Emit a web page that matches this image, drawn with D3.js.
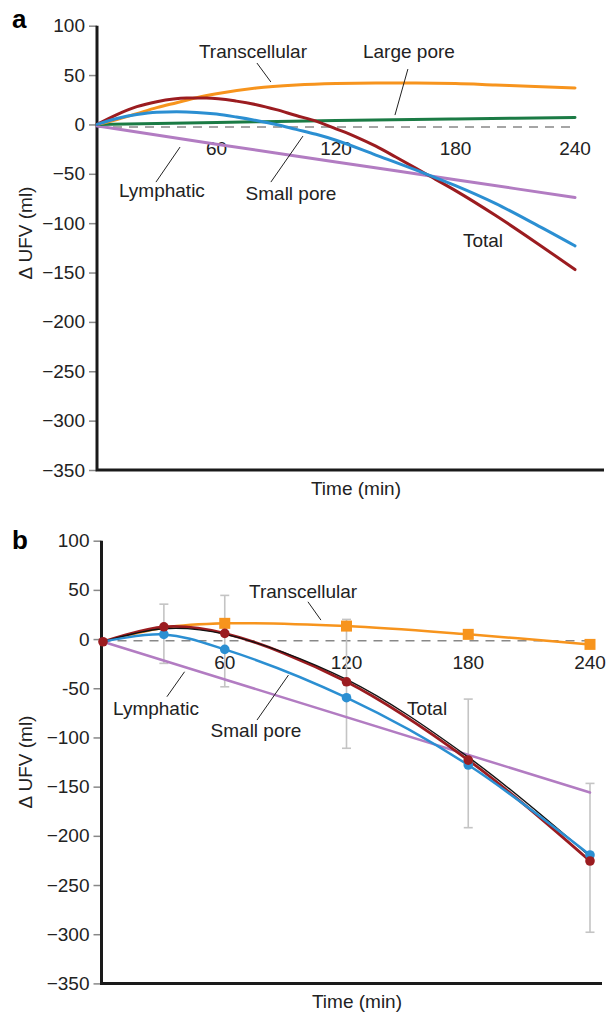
<!DOCTYPE html>
<html>
<head>
<meta charset="utf-8">
<script src="https://cdn.jsdelivr.net/npm/d3@7"></script>
<style>
  html, body { margin: 0; padding: 0; background: #fff; }
  svg { display: block; font-family: "Liberation Sans", Arial, Helvetica, sans-serif; }
</style>
</head>
<body>
<div id="chart"></div>
<script>
// ---- panel a: model curves, [time (min), delta UFV (ml)]
var transcellularA = [[0, 0], [10, 5], [20, 11], [30, 17], [40, 22], [50, 27], [60, 31], [80, 37], [100, 40],
    [120, 41.5], [140, 42], [160, 42], [180, 41.5], [200, 40], [220, 38.5], [240, 37]];
var largePoreA = [[0, 0], [60, 2], [120, 4], [180, 5.5], [240, 7]];
var totalA = [[0, 0], [10, 10], [20, 18], [30, 23], [45, 26.7], [55, 26.7], [70, 23.6], [80, 20], [90, 15],
    [100, 9], [110, 3.4], [120, -4.4], [130, -12.5], [140, -22], [150, -33], [165, -50], [180, -67],
    [200, -92], [220, -119], [240, -147]];
var smallPoreA = [[0, 0], [10, 6], [20, 10], [30, 12.3], [40, 12.8], [50, 12.2], [60, 10.5], [70, 7.5],
    [80, 4], [90, 0], [100, -5], [110, -10], [120, -16], [140, -31], [165, -50], [180, -62], [200, -80],
    [220, -101], [240, -123]];
var lymphaticA = [[0, -1.5], [60, -20], [120, -38], [180, -56], [240, -74]];

// ---- panel b: measured points + fits
var timeB = [0, 30, 60, 120, 180, 240];
var totalB = [-2.7, 12.5, 5.8, -43.4, -123, -225.6];
var modelTotalB = [-2.7, 10.5, 5, -41, -120, -221];
var smallPoreB = [-2.7, 4.7, -10.5, -59.6, -128, -219.5];
var transcellularB = [-2.7, 11.5, 16, 13.2, 4.8, -5.4];
var lymphaticB = [[0, -2.7], [240, -156]];
var errTimeB = [30, 60, 120, 180, 240];
var errHighB = [35.5, 44.4, 20, -61, -146.7];
var errLowB = [-24.7, -48.5, -111, -191.7, -298];

// ---- axes
var yTicks = [100, 50, 0, -50, -100, -150, -200, -250, -300, -350];
var yTickLabelsA = ['100', '50', '0', '\u221250', '\u2212100', '\u2212150', '\u2212200', '\u2212250', '\u2212300', '\u2212350'];
var yTickLabelsB = ['100', '50', '0', '-50', '\u2212100', '\u2212150', '\u2212200', '\u2212250', '\u2212300', '\u2212350'];
var xTicks = [60, 120, 180, 240];

var col = {
    orange: '#f7941d',
    green: '#1b7b45',
    red: '#9b1c20',
    blue: '#2b8fd2',
    purple: '#b27cc2',
    grey: '#c4c4c4'
};

var svg = d3.select('#chart').append('svg')
    .attr('width', 606)
    .attr('height', 1014);

function pairs(ts, vs) {
    return ts.map(function(t, i) { return [t, vs[i]]; });
}

function panel(o) {
    var x = d3.scaleLinear().domain([0, 240]).range(o.xr);
    var y = d3.scaleLinear().domain([-350, 100]).range(o.yr);
    var g = svg.append('g');

    // letter
    g.append('text').attr('x', 12).attr('y', o.letterY)
        .attr('font-size', 26).attr('font-weight', 'bold').text(o.letter);

    // y axis ticks
    var ax = d3.axisLeft(y).tickValues(yTicks).tickSize(8).tickPadding(4)
        .tickFormat(function(d, i) { return o.yLabels[i]; });
    var ag = g.append('g').attr('transform', 'translate(' + o.axisX + ',0)').call(ax);
    ag.select('.domain').remove();
    ag.selectAll('.tick line').attr('stroke', '#888').attr('stroke-width', 1.5);
    ag.selectAll('.tick text').attr('font-size', 19).attr('fill', '#222')
        .attr('font-family', '"Liberation Sans", Arial, sans-serif');

    // zero dashed line
    g.append('line')
        .attr('x1', o.axisX).attr('x2', o.dashEnd)
        .attr('y1', y(o.dashV)).attr('y2', y(o.dashV))
        .attr('stroke', '#888').attr('stroke-width', 1.5).attr('stroke-dasharray', '9,7');

    // x labels
    g.selectAll('.xl').data(xTicks).enter().append('text')
        .attr('x', function(d) { return x(d); })
        .attr('y', o.xLabelY).attr('dy', '0.35em')
        .attr('text-anchor', 'middle').attr('font-size', 19).attr('fill', '#222')
        .text(function(d) { return d; });

    // axis lines
    g.append('path')
        .attr('d', 'M' + o.axisX + ',' + y(100) + 'V' + y(-350) + 'H' + o.axisEnd)
        .attr('fill', 'none').attr('stroke', '#1a1a1a').attr('stroke-width', 3);

    g.append('text').attr('x', o.titleX).attr('y', y(-350) + 18).attr('dy', '0.35em')
        .attr('text-anchor', 'middle').attr('font-size', 19).attr('fill', '#222').text('Time (min)');
    g.append('text')
        .attr('transform', 'translate(25,' + o.yTitleY + ') rotate(-90)')
        .attr('dy', '0.35em').attr('text-anchor', 'middle')
        .attr('font-size', 19).attr('fill', '#222').text('\u0394 UFV (ml)');

    return { g: g, x: x, y: y };
}

function drawLine(p, data, color, width, curve) {
    var line = d3.line()
        .x(function(d) { return p.x(d[0]); })
        .y(function(d) { return p.y(d[1]); })
        .curve(curve || d3.curveMonotoneX);
    p.g.append('path').datum(data)
        .attr('d', line)
        .attr('fill', 'none')
        .attr('stroke', color)
        .attr('stroke-width', width)
        .attr('stroke-linecap', 'round');
}

function annotate(p, list) {
    list.forEach(function(a) {
        p.g.append('text')
            .attr('x', p.x(a.t)).attr('y', p.y(a.v)).attr('dy', '0.35em')
            .attr('text-anchor', 'middle').attr('font-size', 19).attr('fill', '#222')
            .text(a.text);
        if (a.lead) {
            p.g.append('line')
                .attr('x1', p.x(a.lead[0])).attr('y1', p.y(a.lead[1]))
                .attr('x2', p.x(a.lead[2])).attr('y2', p.y(a.lead[3]))
                .attr('stroke', '#222').attr('stroke-width', 1);
        }
    });
}

// ---------- panel a
var pa = panel({
    letter: 'a', letterY: 28,
    xr: [97, 575], yr: [470, 25.7],
    axisX: 97, axisEnd: 604, dashEnd: 575, dashV: -2.6,
    xLabelY: 148, titleX: 356, yTitleY: 233,
    yLabels: yTickLabelsA
});

drawLine(pa, lymphaticA, col.purple, 3);
drawLine(pa, largePoreA, col.green, 3);
drawLine(pa, transcellularA, col.orange, 3);
drawLine(pa, totalA, col.red, 3);
drawLine(pa, smallPoreA, col.blue, 3);

annotate(pa, [
    { text: 'Transcellular', t: 78.3, v: 73.6, lead: [80.3, 62.2, 87.3, 43] },
    { text: 'Large pore', t: 156.6, v: 73.6, lead: [156.1, 56.1, 149.6, 9.5] },
    { text: 'Lymphatic', t: 32.6, v: -67.2, lead: [29.6, -58.4, 41.7, -22.9] },
    { text: 'Small pore', t: 97.4, v: -69.5, lead: [87.3, -58.4, 103.4, -11.8] },
    { text: 'Total', t: 193.8, v: -117 }
]);

// ---------- panel b
var pb = panel({
    letter: 'b', letterY: 549,
    xr: [103, 590], yr: [983.4, 540.7],
    axisX: 101.5, axisEnd: 602, dashEnd: 594, dashV: -1.7,
    xLabelY: 662, titleX: 357, yTitleY: 762,
    yLabels: yTickLabelsB
});

// error bars
var errs = errTimeB.map(function(t, i) { return { t: t, hi: errHighB[i], lo: errLowB[i] }; });
var eb = pb.g.selectAll('.err').data(errs).enter().append('g')
    .attr('stroke', col.grey).attr('stroke-width', 1.6);
eb.append('line')
    .attr('x1', function(d) { return pb.x(d.t); }).attr('x2', function(d) { return pb.x(d.t); })
    .attr('y1', function(d) { return pb.y(d.hi); }).attr('y2', function(d) { return pb.y(d.lo); });
eb.append('line')
    .attr('x1', function(d) { return pb.x(d.t) - 4.5; }).attr('x2', function(d) { return pb.x(d.t) + 4.5; })
    .attr('y1', function(d) { return pb.y(d.hi); }).attr('y2', function(d) { return pb.y(d.hi); });
eb.append('line')
    .attr('x1', function(d) { return pb.x(d.t) - 4.5; }).attr('x2', function(d) { return pb.x(d.t) + 4.5; })
    .attr('y1', function(d) { return pb.y(d.lo); }).attr('y2', function(d) { return pb.y(d.lo); });

var cr = d3.curveCatmullRom.alpha(0.5);
drawLine(pb, lymphaticB, col.purple, 2.5, d3.curveLinear);
drawLine(pb, pairs(timeB, transcellularB), col.orange, 2.5, cr);
drawLine(pb, pairs(timeB, totalB), col.red, 2.8, cr);
drawLine(pb, pairs(timeB, modelTotalB), '#111', 1.4, cr);
drawLine(pb, pairs(timeB, smallPoreB), col.blue, 2.5, cr);

// markers
pb.g.selectAll('.sq').data(pairs(timeB, transcellularB).slice(2)).enter().append('rect')
    .attr('x', function(d) { return pb.x(d[0]) - 5.5; })
    .attr('y', function(d) { return pb.y(d[1]) - 5.5; })
    .attr('width', 11).attr('height', 11).attr('fill', col.orange);
pb.g.selectAll('.bd').data(pairs(timeB, smallPoreB).slice(1)).enter().append('circle')
    .attr('cx', function(d) { return pb.x(d[0]); })
    .attr('cy', function(d) { return pb.y(d[1]); })
    .attr('r', 4.8).attr('fill', col.blue);
pb.g.selectAll('.rd').data(pairs(timeB, totalB)).enter().append('circle')
    .attr('cx', function(d) { return pb.x(d[0]); })
    .attr('cy', function(d) { return pb.y(d[1]); })
    .attr('r', 4.8).attr('fill', col.red);

annotate(pb, [
    { text: 'Transcellular', t: 98.6, v: 49, lead: [101, 37.9, 107.4, 19.3] },
    { text: 'Lymphatic', t: 26.1, v: -70, lead: [31.5, -58.6, 40.2, -33.2] },
    { text: 'Small pore', t: 75.4, v: -93.2, lead: [75.9, -82.3, 91.4, -36.6] },
    { text: 'Total', t: 159.7, v: -70.6 }
]);
</script>
</body>
</html>
